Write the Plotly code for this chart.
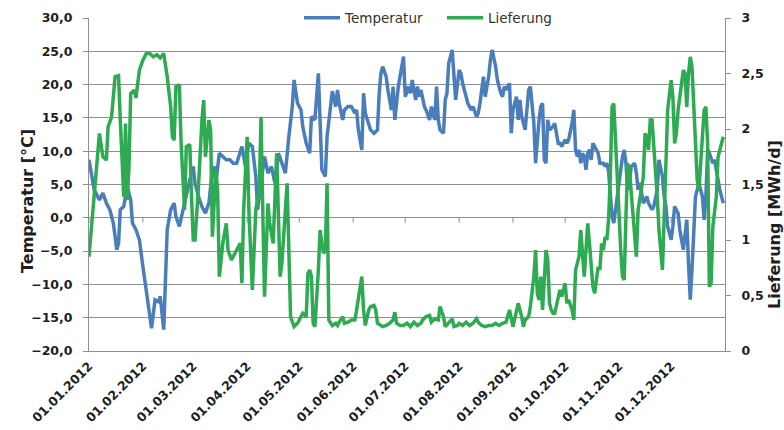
import pandas as pd
import plotly.graph_objects as go

# ---------------- data ----------------
month_starts = ["2012-01-01", "2012-02-01", "2012-03-01", "2012-04-01", "2012-05-01", "2012-06-01",
                "2012-07-01", "2012-08-01", "2012-09-01", "2012-10-01", "2012-11-01", "2012-12-01"]
month_labels = ["01.01.2012", "01.02.2012", "01.03.2012", "01.04.2012", "01.05.2012", "01.06.2012",
                "01.07.2012", "01.08.2012", "01.09.2012", "01.10.2012", "01.11.2012", "01.12.2012"]

# day of year (0 = 01.01.2012) and daily mean temperature [°C]
temp_day = [0, 3, 6, 8, 10, 12, 14, 16, 17, 18, 20, 22, 24, 25, 27, 29, 31, 33, 35, 36, 38, 40, 41, 43, 45,
            47, 49, 50, 52, 54, 56, 58, 60,
            61, 63, 65, 67, 69, 71, 72, 73, 75, 77, 79, 81, 83, 85, 88, 90, 92, 94, 96, 97, 99, 101, 103,
            105, 107, 109, 111, 113, 115, 117, 118, 120,
            122, 123, 125, 127, 128, 130, 132, 133, 134, 136, 137, 139, 140, 142, 143, 144, 146, 147, 149,
            151, 153, 154, 155, 157, 158, 159, 161, 162, 164, 166, 167, 168, 169, 171, 172, 174, 175, 176,
            178, 180, 181,
            182, 184, 185, 186, 188, 189, 190, 191, 193, 194, 196, 197, 199, 200, 201, 202, 204, 205, 206,
            207, 209, 210, 211, 213, 214, 215, 217, 218, 220, 221, 223, 224, 225, 227, 228, 230, 231, 232,
            234, 235, 237, 238, 239,
            240, 242, 243, 244, 246, 247, 248, 249, 251, 252, 253, 254, 256, 257, 258, 259, 260, 261, 262,
            263, 264, 265, 267, 268, 270, 271, 272, 274, 275, 276, 278, 279, 280, 281, 282, 283, 284, 285,
            286, 287, 288, 289, 290, 292, 293, 294, 296, 297, 298, 299, 300,
            301, 302, 304, 305, 307, 308, 309, 310, 311, 312, 314, 315, 316, 317, 319, 320, 321, 322, 324,
            325, 327, 328, 330, 331, 332, 333, 335, 336, 337, 339, 340, 342, 343, 344, 345, 346, 347, 349,
            350, 351, 353, 354, 355, 356, 357, 359, 360, 362, 363, 365]
temp_val = [8.7, 4.2, 2.7, 3.7, 2.2, 1.2, -0.8, -4.8, -3.8, 1.2, 1.7, 4.7, 2.7, -0.8, -1.8, -3.3, -7.3, -11.3,
            -15.6, -16.6, -12.3, -12.6, -11.8, -16.8, -1.8, 1.2, 2.2, 0.2, -1.3, 1.2, 3.2, 5.7, 7.7,
            5.2, 3.2, 1.7, 0.7, 2.2, 7.2, 7.7, 5.2, 9.7, 9.2, 8.7, 8.7, 8.2, 8.2, 10.7, 7.7, 11.2, 10.7, 6.2,
            1.2, 5.7, 9.2, 6.7, 7.7, 5.2, 9.7, 8.2, 6.7, 12.2, 16.7, 20.7, 17.2,
            16.2, 13.7, 11.2, 9.7, 15.2, 14.7, 21.7, 12.2, 7.2, 6.2, 12.2, 16.7, 19.0, 16.7, 19.2, 17.2,
            14.7, 16.2, 16.7, 16.7, 15.7, 16.2, 13.2, 10.2, 18.7, 15.7, 14.2, 13.2, 12.7, 13.2, 18.7, 21.7,
            22.7, 21.2, 19.2, 16.2, 19.7, 14.7, 19.7, 23.2, 24.2,
            18.2, 19.7, 18.7, 20.7, 17.7, 19.7, 18.2, 19.2, 16.7, 16.2, 14.7, 16.7, 14.7, 19.7, 14.7, 13.2,
            12.7, 17.7, 18.7, 23.2, 25.2, 21.2, 17.7, 22.2, 21.7, 20.2, 18.2, 17.2, 16.2, 16.7, 15.2, 15.7,
            17.2, 21.2, 18.2, 21.2, 23.7, 25.2, 22.7, 20.7, 18.7, 18.2, 19.7,
            19.2, 20.2, 12.7, 16.2, 18.2, 14.7, 17.7, 15.2, 13.2, 16.2, 19.2, 19.7, 14.2, 8.2, 12.2, 14.7,
            16.7, 17.2, 8.7, 8.2, 14.7, 13.2, 13.7, 14.2, 11.2, 11.2, 10.7, 11.7, 11.2, 11.7, 14.2, 16.2,
            10.2, 9.2, 10.2, 8.2, 9.7, 9.2, 7.2, 9.7, 10.2, 8.7, 11.2, 10.2, 9.7, 8.2, 8.2, 7.7, 8.2, 7.0,
            3.2,
            0.2, -0.8, 3.2, 6.2, 9.2, 10.2, 8.2, 4.2, 5.2, 7.7, 8.2, 6.7, 4.2, 5.2, 2.2, 2.7, 3.2, 2.2, 1.2,
            1.7, 4.2, 8.7, 6.2, 3.2, 1.7, -1.3, -3.3, -1.3, 1.7, 0.7, -1.8, -4.8, -2.8, -0.3, -6.8, -12.3,
            -7.8, 3.2, 4.2, 5.2, 3.2, -0.3, 3.2, 10.2, 9.7, 8.2, 8.7, 5.2, 4.2, 2.2]

# day of year and daily delivery [MWh/d]
lief_day = [0, 2, 4, 6, 8, 10, 11, 13, 15, 17, 18, 20, 21, 22, 23, 24, 26, 27, 29, 31, 33, 35, 37, 39, 41,
            43, 45, 47, 48, 49, 50, 52, 53, 55, 56, 58, 59, 60,
            61, 63, 65, 66, 67, 69, 70, 71, 73, 74, 75, 77, 79, 80, 82, 83, 85, 87, 88, 89, 91, 92, 94, 95,
            96, 98, 99, 100, 101, 103, 104, 106, 107, 108, 110, 111, 113, 114, 116, 118, 120,
            121, 123, 125, 126, 127, 128, 129, 130, 132, 133, 134, 135, 136, 137, 138, 139, 140, 142, 143,
            144, 146, 147, 149, 151, 153, 154, 155, 157, 158, 159, 161, 162, 164, 165, 166, 168, 169, 171,
            173, 175, 176, 177, 179, 181,
            183, 185, 187, 189, 191, 192, 194, 196, 197, 199, 201, 202, 204, 205, 207, 209, 210, 212, 213,
            215, 217, 219, 221, 223, 224, 226, 228, 230, 232, 234, 236, 238, 240, 241,
            242, 244, 245, 246, 247, 249, 250, 251, 253, 254, 256, 257, 258, 259, 260, 261, 262, 263, 264,
            265, 266, 267, 268, 270, 271, 272, 274, 275, 276, 278, 279, 280, 281, 282, 283, 284, 285, 286,
            287, 288, 290, 291, 292, 293, 294, 295, 296, 297, 298, 299, 300, 301, 302,
            303, 305, 306, 307, 308, 309, 310, 311, 312, 314, 315, 316, 317, 319, 320, 321, 322, 323, 324,
            325, 327, 328, 330, 331, 332, 333, 335, 336, 337, 338, 339, 341, 342, 343, 344, 345, 346, 347,
            348, 349, 350, 351, 353, 354, 355, 356, 357, 358, 359, 361, 362, 363, 365]
lief_val = [0.85, 1.21, 1.51, 1.96, 1.75, 1.72, 2.02, 2.11, 2.47, 2.48, 2.08, 1.39, 2.05, 1.36, 1.66, 2.32,
            2.35, 2.28, 2.53, 2.62, 2.68, 2.68, 2.65, 2.67, 2.64, 2.68, 2.47, 2.2, 1.93, 1.9, 2.38, 2.4, 1.87,
            1.27, 1.84, 1.86, 1.39, 1.0,
            1.0, 1.48, 2.08, 2.26, 1.75, 2.08, 1.99, 1.03, 1.63, 1.45, 0.67, 0.97, 1.15, 0.91, 0.82, 0.85,
            0.91, 0.97, 0.61, 1.27, 1.93, 1.27, 0.55, 0.91, 1.27, 1.45, 2.11, 1.27, 0.49, 1.33, 1.15, 0.97,
            1.39, 1.78, 0.67, 0.79, 1.27, 1.51, 0.31, 0.22, 0.25,
            0.28, 0.34, 0.31, 0.70, 0.73, 0.67, 0.25, 0.22, 0.73, 1.09, 0.97, 0.88, 0.91, 1.51, 0.28, 0.25,
            0.23, 0.25, 0.23, 0.26, 0.31, 0.25, 0.26, 0.28, 0.28, 0.37, 0.46, 0.67, 0.37, 0.23, 0.37, 0.40,
            0.41, 0.37, 0.25, 0.23, 0.22, 0.23, 0.25, 0.28, 0.35, 0.25, 0.23, 0.23,
            0.25, 0.22, 0.26, 0.23, 0.25, 0.28, 0.31, 0.32, 0.26, 0.29, 0.28, 0.40, 0.31, 0.22, 0.25, 0.29,
            0.22, 0.23, 0.25, 0.23, 0.26, 0.23, 0.25, 0.29, 0.26, 0.23, 0.22, 0.23, 0.23, 0.25, 0.23, 0.25,
            0.26, 0.31,
            0.37, 0.22, 0.28, 0.37, 0.43, 0.31, 0.22, 0.28, 0.31, 0.40, 0.67, 0.91, 0.52, 0.46, 0.67, 0.37,
            0.73, 0.91, 0.82, 0.43, 0.37, 0.34, 0.34, 0.46, 0.55, 0.49, 0.61, 0.43, 0.46, 0.37, 0.28, 0.73,
            0.79, 0.85, 1.09, 0.91, 0.67, 0.91, 1.15, 0.97, 0.58, 0.52, 0.67, 0.76, 0.73, 0.97, 0.91, 1.03,
            1.0, 1.18, 1.57, 2.2, 2.23,
            1.87, 1.27, 0.91, 0.67, 0.64, 1.21, 1.69, 1.63, 1.45, 1.12, 0.85, 1.27, 1.39, 1.57, 1.96, 1.93,
            1.81, 2.08, 2.08, 1.87, 1.39, 1.09, 0.73, 1.21, 1.69, 2.17, 2.44, 2.29, 1.87, 1.96, 2.17, 2.44,
            2.53, 2.5, 2.2, 2.5, 2.65, 2.56, 2.2, 1.87, 1.54, 1.45, 1.87, 2.17, 2.2, 1.87, 0.58, 0.61, 1.12,
            1.39, 1.75, 1.81, 1.93]

# ---------------- figure ----------------
BLUE = "#4a7ebb"
GREEN = "#2eab52"
GRID = "#8f8f8f"
TXT = "#1e1e1e"
TICKFONT = dict(family="DejaVu Sans", size=12.5, color=TXT, weight="bold")
TITLEFONT = dict(family="DejaVu Sans", size=16, color=TXT, weight="bold")

W, H = 784, 430
ML, MR, MB = 89, 59, 79          # plot area: x 89..725, y 18..351
PLOT_TOP = 18
area_h = H - MB                   # margin top = 0, y-domain ends at the plot top
y_dom_top = (area_h - PLOT_TOP) / area_h
area_w = W - ML - MR


def py(ypx):
    """pixel row -> paper y (plot area spans rows 0..area_h)"""
    return (area_h - ypx) / area_h


def px(xpx):
    return (xpx - ML) / area_w


base = pd.Timestamp("2012-01-01")
temp_x = base + pd.to_timedelta(temp_day, unit="D")
lief_x = base + pd.to_timedelta(lief_day, unit="D")
x_range = [base, base + pd.Timedelta(days=366)]

fig = go.Figure()
fig.add_trace(go.Scatter(x=temp_x, y=temp_val, name="Temperatur", mode="lines",
                         line=dict(color=BLUE, width=3.5), xaxis="x", yaxis="y"))
fig.add_trace(go.Scatter(x=lief_x, y=lief_val, name="Lieferung", mode="lines",
                         line=dict(color=GREEN, width=3.5), xaxis="x", yaxis="y2"))

# category-axis tick marks sitting on the 0 line (axis crosses at 0)
for m in month_starts:
    fig.add_shape(type="line", xref="x", yref="y", x0=m, x1=m, ysizemode="pixel",
                  yanchor=0, y0=0, y1=-5, line=dict(color=GRID, width=1), layer="below")

fig.update_layout(
    width=W, height=H,
    margin=dict(l=ML, r=MR, t=0, b=MB),
    paper_bgcolor="white", plot_bgcolor="white",
    separators=",.",
    showlegend=True,
    legend=dict(orientation="h", x=px(299), xanchor="left", y=y_dom_top, yanchor="middle",
                bgcolor="white", font=dict(family="DejaVu Sans", size=13.5, color="#333333"),
                entrywidth=92, entrywidthmode="pixels", itemwidth=36, tracegroupgap=0),
    xaxis=dict(type="date", range=x_range, tickmode="array", tickvals=month_starts,
               ticktext=month_labels, tickangle=-45, ticks="", showgrid=False,
               showline=True, linecolor=GRID, linewidth=1, zeroline=False,
               tickfont=TICKFONT, ticklabelstandoff=2, automargin=False),
    yaxis=dict(domain=[0, y_dom_top], range=[-20, 30], dtick=5, tick0=0, tickformat=".1f",
               showgrid=True, gridcolor=GRID, gridwidth=1, showline=True, linecolor=GRID,
               ticks="outside", ticklen=5, tickcolor=GRID, zeroline=False, tickfont=TICKFONT,
               ticklabelstandoff=8, automargin=False),
    yaxis2=dict(range=[0, 3], dtick=0.5, tick0=0, overlaying="y", side="right", anchor="x",
                showgrid=False, showline=True, linecolor=GRID, ticks="outside", ticklen=5,
                tickcolor=GRID, zeroline=False, tickfont=TICKFONT, ticklabelstandoff=8,
                automargin=False),
    annotations=[
        dict(text="Temperatur [°C]", xref="paper", yref="paper", x=px(27), y=py(201),
             xanchor="center", yanchor="middle", textangle=-90, showarrow=False, font=TITLEFONT),
        dict(text="Lieferung [MWh/d]", xref="paper", yref="paper", x=px(775), y=py(225),
             xanchor="center", yanchor="middle", textangle=-90, showarrow=False, font=TITLEFONT),
    ],
)

# remove the browser's default 8px page margin so the 784x430 figure fills the window exactly
fig.write_html("out.html", config={"displayModeBar": False},
               post_script="document.body.style.margin='0';document.body.style.overflow='hidden';")
